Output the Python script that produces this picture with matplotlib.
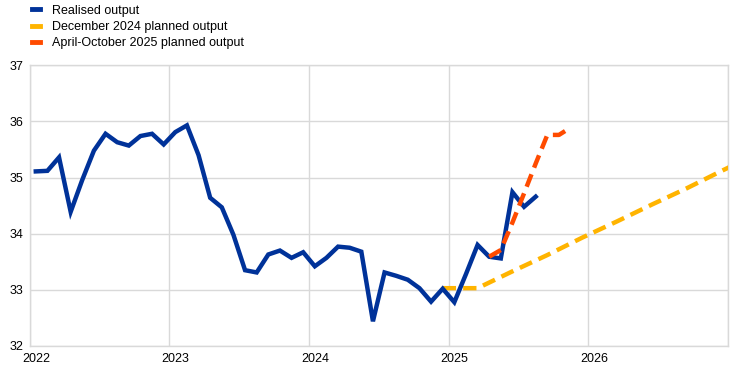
import matplotlib.pyplot as plt
from matplotlib.lines import Line2D
import matplotlib.transforms as mtransforms

plt.rcParams['font.family'] = ['Liberation Sans', 'DejaVu Sans']

# Realised output, monthly from Jan 2022 to Aug 2025
realised = [35.11, 35.12, 35.36, 34.39, 34.96, 35.48, 35.78, 35.63, 35.57, 35.74, 35.78, 35.59,
            35.81, 35.93, 35.40, 34.64, 34.47, 33.98, 33.35, 33.31, 33.63, 33.70, 33.57, 33.67,
            33.42, 33.57, 33.77, 33.75, 33.68, 32.44, 33.31, 33.25, 33.18, 33.03, 32.79, 33.02,
            32.78, 33.28, 33.80, 33.59, 33.56, 34.74, 34.48, 34.66]
realised_months = [(2022 + i // 12, i % 12 + 1) for i in range(len(realised))]

# December 2024 planned output
dec24_months = [(2024, 12), (2025, 3), (2025, 6), (2025, 9), (2025, 12),
                (2026, 3), (2026, 6), (2026, 9), (2026, 12), (2027, 3)]
dec24 = [33.03, 33.03, 33.33, 33.62, 33.93, 34.22, 34.52, 34.81, 35.12, 35.42]

# April-October 2025 planned output
aproct_months = [(2025, 4), (2025, 5), (2025, 6), (2025, 7), (2025, 8),
                 (2025, 9), (2025, 10), (2025, 11)]
aproct = [33.59, 33.71, 34.20, 34.72, 35.25, 35.76, 35.76, 35.89]

years = [2022, 2023, 2024, 2025, 2026, 2027]
year_labels = ['2022', '2023', '2024', '2025', '2026', '']

blue = '#003299'
yellow = '#FFB400'
orange = '#FF4B00'
grid = '#d9d9d9'


def xpos(months):
    return [y + (m - 0.5) / 12 for y, m in months]


fig = plt.figure(figsize=(7.42, 3.71), dpi=100)
ax = fig.add_axes([0.0404, 0.0674, 0.9401, 0.7566])

ax.plot(xpos(dec24_months), dec24, color=yellow, lw=3.2, ls=(0, (3.0, 1.6)),
        dash_capstyle='butt', zorder=3)
ax.plot(xpos(realised_months), realised, color=blue, lw=3.2, solid_joinstyle='miter', zorder=4)
ax.plot(xpos(aproct_months), aproct, color=orange, lw=3.2, ls=(0, (3.0, 1.6)),
        dash_capstyle='butt', zorder=5)

ax.set_xlim(2022, 2027)
ax.set_ylim(32, 37)
ax.set_xticks(years)
ax.set_xticklabels(year_labels)
ax.set_yticks(range(32, 38))
ax.grid(True, color=grid, lw=1)
ax.set_axisbelow(True)
for s in ax.spines.values():
    s.set_color(grid)
    s.set_linewidth(1)
ax.tick_params(length=0, labelsize=9, colors='black', pad=5)

offset = mtransforms.ScaledTranslation(6 / 100, 0, fig.dpi_scale_trans)
for lab in ax.get_xticklabels():
    lab.set_transform(lab.get_transform() + offset)

handles = [Line2D([], [], color=blue, lw=3.5),
           Line2D([], [], color=yellow, lw=3.5),
           Line2D([], [], color=orange, lw=3.5)]
labels = ['Realised output', 'December 2024 planned output', 'April-October 2025 planned output']
fig.legend(handles, labels, loc='upper left', bbox_to_anchor=(0.036, 1.001), frameon=False,
           fontsize=9, handlelength=0.65, handletextpad=0.98, labelspacing=0.35,
           borderaxespad=0)

fig.savefig('out.png', dpi=100)
